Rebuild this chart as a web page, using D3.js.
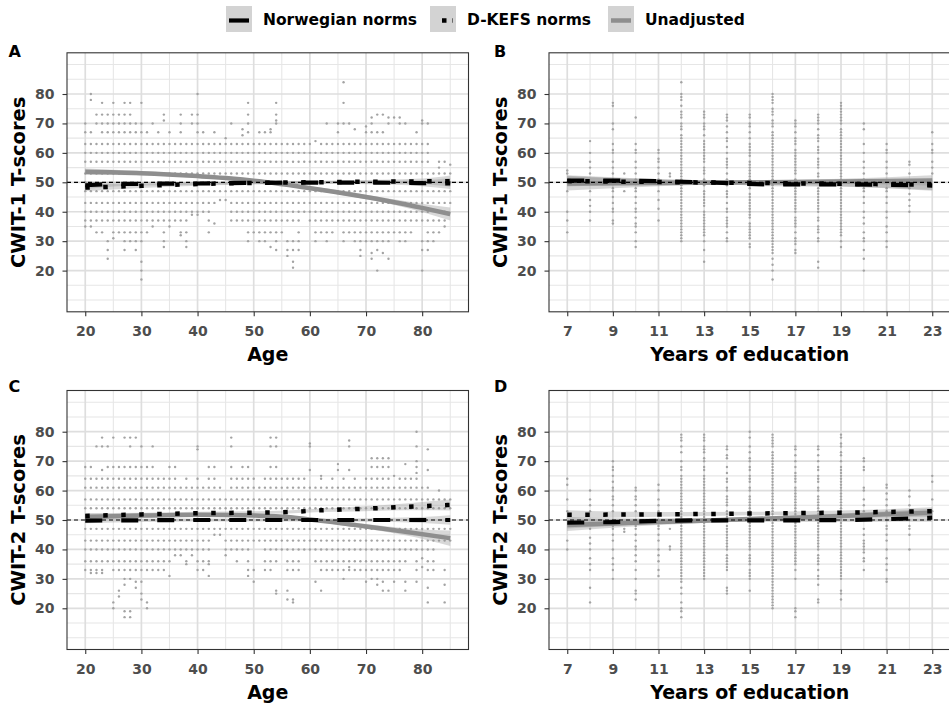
<!DOCTYPE html>
<html lang="en">
<head>
<meta charset="utf-8">
<title>CWIT T-scores</title>
<style>
body { margin: 0; background: #fff; }
svg { display: block; }
text { font-family: "DejaVu Sans", sans-serif; font-weight: bold; }
</style>
</head>
<body>
<script src="https://cdn.jsdelivr.net/npm/d3@7"></script>
<script>

// legend entries
var seriesNames = ["Norwegian norms", "D-KEFS norms", "Unadjusted"];

// tick labels
var yTicks = [20, 30, 40, 50, 60, 70, 80];
var ageTicks = [20, 30, 40, 50, 60, 70, 80];
var eduTicks = [7, 9, 11, 13, 15, 17, 19, 21, 23];

// scatter: [x, [T-scores at that x]]
var scatterA = [
 [20,[70,67,63,60,57,53,50,47,43,40,37,35]],
 [21,[80,78,67,63,60,57,53,47,43,40,37,35]],
 [22,[73,70,63,60,57,53,47,43,40,37,33]],
 [23,[77,73,70,67,63,60,57,53,47,43,40,37,33]],
 [24,[73,70,67,63,60,57,53,47,43,40,37,30,27,24]],
 [25,[77,73,70,67,63,60,57,53,47,43,40,37,33,31]],
 [26,[73,70,67,63,60,57,53,47,43,40,37,33]],
 [27,[77,73,70,67,63,60,57,53,47,43,40,37,33,30,27]],
 [28,[77,73,70,67,63,60,57,53,47,43,40,37,33,30]],
 [29,[70,67,63,60,57,53,47,43,40,37,33,30,27]],
 [30,[77,70,67,63,60,57,53,47,43,40,37,33,30,23,20,17]],
 [31,[67,63,60,57,53,47,43,40,37,33]],
 [32,[70,63,60,57,53,47,43,40,37,35]],
 [33,[67,63,60,57,53,47,43,40,37]],
 [34,[73,71,63,60,57,53,47,43,40,37,33,30,28]],
 [35,[67,63,60,57,53,47,43,40,37,35]],
 [36,[63,60,57,53,47,43,40,37]],
 [37,[73,70,67,63,60,57,53,47,43,40,37,33,32]],
 [38,[63,60,57,53,47,43,40,37,33,30,28]],
 [39,[73,70,63,60,57,53,47,43,40,39]],
 [40,[80,73,70,67,63,60,57,53,47,43,40,39]],
 [41,[67,63,60,57,53,47,43,40]],
 [42,[63,60,57,53,47,43,40,37,33]],
 [43,[67,63,60,57,53,47,43,36]],
 [44,[63,60,57,53,47,44]],
 [45,[65,63,60,57,53,47,44]],
 [46,[70,63,60,57,53,47,43,40,37]],
 [47,[63,60,57,53,47,43,40,37]],
 [48,[68,66,63,60,57,53,47,43,40,37]],
 [49,[77,73,70,67,63,60,57,53,47,43,40,37,33,30]],
 [50,[63,60,57,53,47,43,40,37,33]],
 [51,[67,63,60,57,53,47,43,40,37,33,30]],
 [52,[67,63,60,57,53,47,43,40,37,33,30]],
 [53,[68,67,63,60,57,53,47,43,40,37,33,28]],
 [54,[77,73,71,70,63,60,57,53,47,43,40,37,33,30,27]],
 [55,[63,60,57,53,47,43,40,37,33]],
 [56,[63,60,57,53,47,43,40,37,30,27,25]],
 [57,[63,60,57,53,47,43,40,37,30,27,23,21]],
 [58,[63,60,57,53,47,43,40,37,33,30,27]],
 [59,[63,60,57,53,47,43,40]],
 [60,[63,60,57,53,47,43,40,37]],
 [61,[64,60,57,53,47,43,40,37,33,30]],
 [62,[63,60,57,53,47,43,40,37,33]],
 [63,[70,63,60,57,53,47,43,40,37,33,30]],
 [64,[63,60,57,53,47,43,40,37,33]],
 [65,[70,67,63,60,57,53,47,43,40,37]],
 [66,[84,77,70,63,60,57,53,47,43,40,37,33,30]],
 [67,[70,63,60,57,53,47,43,40,37,33]],
 [68,[68,63,60,57,53,47,43,40,37,33,30]],
 [69,[63,60,57,53,47,43,40,37,33,30,27,25]],
 [70,[69,67,63,60,57,53,47,43,40,37,33,30]],
 [71,[72,70,67,63,60,57,53,47,43,40,37,33,30,26,24]],
 [72,[73,67,63,60,57,53,47,43,40,37,33,30,27,20]],
 [73,[73,67,63,60,57,53,47,43,40,37,33,30,26]],
 [74,[72,70,63,60,57,53,47,43,40,37,33,30,24]],
 [75,[72,63,60,57,53,47,43,40,37,33]],
 [76,[72,70,63,60,57,53,47,43,40,37,33,30]],
 [77,[70,63,60,57,53,47,43,40,37,33,30]],
 [78,[63,60,57,53,47,43,40,37,33]],
 [79,[67,63,60,57,53,47,43,40,37]],
 [80,[71,70,63,60,57,53,47,43,40,37,30,27,20]],
 [81,[70,63,60,57,53,47,43,40,37,33,30,27]],
 [82,[53,47,43,37,33,30]],
 [83,[57,55,53,47,43,40,37,33]],
 [84,[57,53,47,43,40,37,35]],
 [85,[56,53,50,47,43]]
];

var scatterB = [
 [7,[54,53,50,47,40,37,33]],
 [8,[64,60,57,55,53,50,47,44,42,40,37]],
 [9,[77,76,70,68,63,61,60,57,55,53,51,50,48,47,45,43,41,40,37,36]],
 [9.5,[53,47]],
 [10,[72,63,61,60,57,55,53,51,50,48,47,45,43,41,40,38,36,35,33,30,28]],
 [11,[61,60,58,57,55,53,51,50,47,44,41,37]],
 [11.5,[53,52]],
 [12,[84,80,79,78,76,74,73,72,70,69,68,66,65,64,63,62,61,60,59,58,57,56,55,54,53,52,51,50,49,48,47,46,45,44,43,42,41,40,39,38,37,36,35,34,33,32,31,30]],
 [13,[74,73,72,70,69,68,66,64,63,62,61,60,59,58,57,55,54,53,51,50,49,47,46,45,44,43,42,40,39,38,37,36,35,34,33,32,30,27,23]],
 [14,[73,72,71,69,67,65,64,62,60,58,57,56,55,53,51,50,49,47,46,45,43,41,40,38,37,36,35,33,31,30]],
 [15,[73,72,70,69,67,65,63,62,61,60,59,57,56,55,54,53,52,51,50,49,48,46,45,44,43,42,41,40,39,38,36,35,34,33,32,31,29,28]],
 [16,[80,79,78,77,75,74,73,71,70,69,67,66,65,64,63,62,61,60,59,58,57,56,55,54,53,52,51,50,49,48,47,46,45,44,43,42,41,40,39,38,37,36,35,34,33,32,31,30,29,28,27,26,24,22,20,17]],
 [17,[71,70,69,67,65,64,63,61,60,59,58,57,56,55,54,53,51,50,49,48,47,46,45,44,43,42,41,40,38,37,36,35,33,31,30,29,27,26]],
 [18,[73,72,71,70,68,66,65,64,62,61,60,58,57,56,55,53,52,50,48,47,46,45,44,43,42,41,40,38,37,35,34,33,31,30,23,21]],
 [19,[77,76,75,74,73,72,71,70,68,67,66,65,64,63,62,61,60,59,58,57,56,55,54,53,52,51,50,49,48,47,46,45,44,43,42,41,40,39,38,37,36,35,34,33,32,30,28]],
 [20,[70,68,63,60,57,55,53,51,49,48,47,45,43,40,38,36,33,31,30,27,24,20]],
 [21,[63,61,60,57,55,53,50,48,47,45,43,40,38,35,33,30,28]],
 [22,[57,56,53,50,48,46,44,42,40]],
 [23,[67,63,61,60,57,55,53]]
];

var scatterC = [
 [20,[68,64,61,57,54,47,43,40,36,33]],
 [21,[68,64,61,57,54,47,43,40,36,33,32]],
 [22,[75,64,61,57,54,47,43,40,36,33,32]],
 [23,[78,75,67,64,61,57,54,47,43,40,36,33,32]],
 [24,[75,68,64,61,57,54,47,43,40,36]],
 [25,[78,68,64,61,57,54,47,43,40,36,33,22,20]],
 [26,[68,64,61,57,54,47,43,40,36,33,26,24]],
 [27,[78,68,64,61,57,54,47,43,40,36,33,30,28,19,17]],
 [28,[78,75,68,64,61,57,54,47,43,40,36,33,30,19,17]],
 [29,[78,68,64,61,57,54,47,43,40,36,33,29,27]],
 [30,[75,68,64,61,57,54,47,43,40,36,33,29,25,23]],
 [31,[68,64,61,57,54,47,43,40,36,33,22,20]],
 [32,[75,68,64,61,57,54,47,43,40,36,33]],
 [33,[64,61,57,54,47,43,40,36,33]],
 [34,[64,61,57,54,47,43,40,36,33]],
 [35,[68,64,61,57,54,47,43,40,36,31]],
 [36,[68,64,61,57,54,47,43,40,38]],
 [37,[61,57,54,47,43,40,38]],
 [38,[64,61,57,54,47,43,40,36,35]],
 [39,[61,57,54,47,43,40,38]],
 [40,[75,74,64,61,57,54,47,43,40,36,33]],
 [41,[61,57,54,47,43,40,36,33]],
 [42,[68,64,61,57,54,47,43,40,36,35,31]],
 [43,[68,64,61,57,54,47,45]],
 [44,[61,57,54,47,45]],
 [45,[57,54,47,43,40,38]],
 [46,[78,75,68,64,61,57,54,47,43,40]],
 [47,[64,61,57,54,47,43,40,36]],
 [48,[68,64,61,57,54,47,43,40]],
 [49,[68,64,61,57,54,47,43,40,36,33,31]],
 [50,[64,61,57,54,47,43,33,29]],
 [51,[61,57,54,47,43]],
 [52,[64,61,57,54,47,43,40,36,33]],
 [53,[78,75,68,64,61,57,54,47,43,40,36,33]],
 [54,[78,75,68,64,61,57,54,47,43,40,36,26,25]],
 [55,[64,61,57,54,47,43,40]],
 [56,[64,61,57,54,47,43,40,36,33,26,23]],
 [57,[64,61,57,54,47,43,40,36,33,23,22]],
 [58,[64,61,57,54,47,43,40,36,33]],
 [59,[64,61,57,54,47,43,40]],
 [60,[76,75,67,61,57,54,47,43,40]],
 [61,[61,57,54,47,43,40,36,29]],
 [62,[65,64,61,57,54,47,43,40,36,33,26]],
 [63,[61,57,54,47,43,40,36,33]],
 [64,[64,61,57,54,47,43,40,36,33]],
 [65,[69,67,61,57,54,47,43,40,36,33]],
 [66,[64,61,57,54,47,43,40,36,33,30]],
 [67,[77,75,67,61,57,54,47,43,40,36,34,33]],
 [68,[64,61,57,54,47,43,40,36,33]],
 [69,[61,57,54,47,43,40,36,33]],
 [70,[64,61,57,54,47,43,40,36,33,29]],
 [71,[71,68,64,61,57,54,47,43,40,36,33,30]],
 [72,[71,68,64,61,57,54,47,43,40,36,33,30,28]],
 [73,[71,68,64,61,57,54,47,43,40,36,33,29,26]],
 [74,[71,68,64,61,57,54,47,43,40,36,33,26]],
 [75,[65,61,57,54,47,43,40,36,33,29]],
 [76,[64,61,57,54,47,43,40,36,33]],
 [77,[69,64,61,57,54,47,43,40,36,29,26]],
 [78,[64,61,57,54,47,43,40]],
 [79,[80,75,70,68,66,64,61,57,54,47,43,40,36,33,29]],
 [80,[61,57,54,47,43,40,37,34]],
 [81,[74,67,61,57,54,47,43,40,36,33,27,22]],
 [82,[57,54,47,43,40,36,33]],
 [83,[60,57,54,47,43]],
 [84,[57,54,47,43,33,28,22]],
 [85,[57,54,47,43]]
];

var scatterD = [
 [7,[64,62,57,53,43,40]],
 [8,[60,57,55,53,47,44,42,40,37,35,33,27,22]],
 [9,[70,68,67,65,63,61,60,58,57,55,53,50,48,47,45,43,40,37,35,33,30]],
 [9.5,[47,46]],
 [10,[61,60,58,57,55,53,50,48,47,45,43,41,40,38,36,33,30,26,25,23]],
 [11,[62,60,57,55,53,50,48,47,45,43,40,38,36,33,31]],
 [11.5,[47,41,40]],
 [12,[79,78,77,75,73,70,68,67,65,64,63,62,61,60,59,58,57,56,55,54,53,52,51,50,49,48,47,46,45,44,43,42,41,40,39,38,37,36,35,34,33,32,31,30,29,27,25,22,20,19,17]],
 [13,[79,78,77,75,74,73,71,70,68,67,65,64,63,62,61,60,59,58,57,56,55,54,53,52,51,50,49,48,47,46,45,44,43,42,41,40,39,38,37,36,35,34,33,32,31,30]],
 [14,[75,74,72,71,68,66,64,63,61,60,58,57,56,55,53,52,51,50,48,47,46,45,44,43,42,41,40,38,37,36,35,34,33,27,26,25]],
 [15,[80,78,75,73,71,70,68,67,65,64,63,61,60,58,57,56,55,54,53,52,51,50,49,48,47,46,45,44,43,42,41,40,38,37,36,35,33,32,31,30,26]],
 [16,[79,78,77,76,75,73,72,71,70,69,68,67,66,65,64,63,62,61,60,59,58,57,56,55,54,53,52,51,50,49,48,47,46,45,44,43,42,41,40,39,38,37,36,35,34,33,32,31,30,29,28,27,26,25,24,23,22,21,20]],
 [17,[75,74,72,70,68,66,65,64,63,61,60,59,58,57,56,55,54,53,52,51,50,49,48,47,46,45,44,43,42,41,40,39,38,37,36,35,33,30,20,19,17]],
 [18,[75,74,72,70,68,67,65,64,63,61,60,58,57,56,55,54,53,52,51,50,49,48,47,46,45,44,43,42,41,40,38,37,36,35,33,31,30,28,23,22]],
 [19,[79,78,76,75,73,72,70,68,67,66,65,64,63,62,61,60,59,58,57,56,55,54,53,52,51,50,49,48,47,46,45,44,43,42,41,40,39,38,37,36,35,34,33,32,31,30,26,25,23]],
 [20,[71,70,68,67,61,60,57,55,53,50,47,45,43,42,41,40,39,37,36,33]],
 [21,[62,61,59,57,55,53,50,48,47,45,43,40,37,35,33,30,29]],
 [22,[60,58,55,53,50,48,47,45,40]],
 [23,[65,63,57,53]]
];

// smooth fits: [x, fitted T-score, half width of band]
var normA  = [[20,49.0,1.3],[25,49.4,0.8],[30,49.5,0.6],[40,49.6,0.5],[50,49.8,0.5],[60,49.9,0.5],[70,49.9,0.6],[80,49.7,1.0],[85,49.6,1.9]];
var dkefsA = [[20,48.2,1.2],[30,48.8,0.7],[40,49.4,0.6],[50,49.8,0.5],[60,50.0,0.5],[70,50.2,0.6],[80,50.3,1.0],[85,50.4,1.9]];
var unadjA = [[20,53.6,1.1],[30,53.1,0.7],[40,52.1,0.6],[46,51.3,0.6],[52,50.1,0.6],[58,48.6,0.6],[64,46.9,0.7],[70,45.0,0.8],[76,42.9,1.0],[80,41.3,1.4],[85,39.2,2.2]];

var normB  = [[7,50.6,1.8],[10,50.5,0.9],[13,50.0,0.6],[16,49.3,0.6],[19,49.3,0.8],[23,48.9,1.8]];
var dkefsB = [[7,50.4,1.8],[11,50.1,0.9],[15,49.8,0.6],[19,49.5,0.8],[23,49.2,1.8]];
var unadjB = [[7,49.6,2.4],[11,49.8,1.1],[15,50.0,0.6],[19,50.3,0.9],[23,50.6,1.8]];

var normC  = [[20,49.8,0.9],[30,49.9,0.6],[40,50.0,0.5],[50,50.0,0.5],[60,50.0,0.5],[70,50.0,0.6],[80,50.0,1.0],[85,50.0,1.6]];
var dkefsC = [[20,51.4,1.0],[30,51.9,0.6],[40,52.3,0.5],[50,52.5,0.5],[56,52.7,0.5],[62,53.3,0.6],[68,53.7,0.8],[74,54.2,1.0],[80,54.7,1.4],[85,55.1,1.9]];
var unadjC = [[20,51.0,1.0],[30,51.5,0.7],[40,51.8,0.6],[50,51.5,0.6],[56,51.0,0.6],[60,50.2,0.6],[65,49.1,0.7],[70,47.8,0.8],[77,46.0,1.2],[85,43.8,2.6]];

var normD  = [[7,49.1,2.0],[9,49.3,1.3],[11,49.7,0.9],[13,49.9,0.7],[17,49.9,0.6],[19,50.0,0.7],[21,50.3,0.9],[23,50.8,1.4]];
var dkefsD = [[7,51.8,1.5],[11,51.9,0.8],[15,52.2,0.6],[19,52.5,0.7],[23,53.0,1.3]];
var unadjD = [[7,48.3,2.0],[11,49.3,1.0],[15,50.3,0.7],[19,51.4,0.8],[23,52.5,1.4]];

var w = 949;
var h = 706;

var svg = d3.select("body")
        .append("svg")
        .attr("width", w)
        .attr("height", h);

var panels = [
    {id: "A", left: 67, top: 52.8, xdom: [16.75, 88.25], ticks: ageTicks, minor: [15,25,35,45,55,65,75,85],
     xtitle: "Age", ytitle: "CWIT-1 T-scores", pts: scatterA, fits: [normA, dkefsA, unadjA]},
    {id: "B", left: 549, top: 52.8, xdom: [6.2, 23.8], ticks: eduTicks, minor: [8,10,12,14,16,18,20,22],
     xtitle: "Years of education", ytitle: "CWIT-1 T-scores", pts: scatterB, fits: [normB, dkefsB, unadjB]},
    {id: "C", left: 67, top: 390.5, xdom: [16.75, 88.25], ticks: ageTicks, minor: [15,25,35,45,55,65,75,85],
     xtitle: "Age", ytitle: "CWIT-2 T-scores", pts: scatterC, fits: [normC, dkefsC, unadjC]},
    {id: "D", left: 549, top: 390.5, xdom: [6.2, 23.8], ticks: eduTicks, minor: [8,10,12,14,16,18,20,22],
     xtitle: "Years of education", ytitle: "CWIT-2 T-scores", pts: scatterD, fits: [normD, dkefsD, unadjD]}
];

var pw = 401.5, ph = 259;
var yMinor = [10,15,25,35,45,55,65,75,85,90];

panels.forEach(function(p) {

    var x = d3.scaleLinear().domain(p.xdom).range([0, pw]);
    var y = d3.scaleLinear().domain([6, 94]).range([ph, 0]);

    var g = svg.append("g").attr("transform", "translate(" + p.left + "," + p.top + ")");

    g.append("clipPath").attr("id", "clip" + p.id)
        .append("rect").attr("width", pw).attr("height", ph);

    var inner = g.append("g").attr("clip-path", "url(#clip" + p.id + ")");

    inner.append("rect").attr("width", pw).attr("height", ph).attr("fill", "#fff");

    // grid
    inner.selectAll(".ymin").data(yMinor).enter().append("line")
        .attr("x1", 0).attr("x2", pw)
        .attr("y1", function(d) { return y(d); }).attr("y2", function(d) { return y(d); })
        .attr("stroke", "#e6e6e6").attr("stroke-width", 1.1);
    inner.selectAll(".xmin").data(p.minor).enter().append("line")
        .attr("y1", 0).attr("y2", ph)
        .attr("x1", function(d) { return x(d); }).attr("x2", function(d) { return x(d); })
        .attr("stroke", "#e6e6e6").attr("stroke-width", 1.1);
    inner.selectAll(".ymaj").data(yTicks).enter().append("line")
        .attr("x1", 0).attr("x2", pw)
        .attr("y1", function(d) { return y(d); }).attr("y2", function(d) { return y(d); })
        .attr("stroke", "#dedede").attr("stroke-width", 1.7);
    inner.selectAll(".xmaj").data(p.ticks).enter().append("line")
        .attr("y1", 0).attr("y2", ph)
        .attr("x1", function(d) { return x(d); }).attr("x2", function(d) { return x(d); })
        .attr("stroke", "#dedede").attr("stroke-width", 1.7);

    // points
    var flat = [];
    p.pts.forEach(function(col) {
        col[1].forEach(function(v) { flat.push([col[0], v]); });
    });
    inner.selectAll("circle").data(flat).enter().append("circle")
        .attr("cx", function(d) { return x(d[0]); })
        .attr("cy", function(d) { return y(d[1]); })
        .attr("r", 1.2)
        .attr("fill", "#a3a3a3");

    // ribbons
    var area = d3.area().curve(d3.curveMonotoneX)
        .x(function(d) { return x(d[0]); })
        .y0(function(d) { return y(d[1] - d[2]); })
        .y1(function(d) { return y(d[1] + d[2]); });
    var line = d3.line().curve(d3.curveMonotoneX)
        .x(function(d) { return x(d[0]); })
        .y(function(d) { return y(d[1]); });

    p.fits.forEach(function(f) {
        inner.append("path").attr("d", area(f))
            .attr("fill", "#8f8f8f").attr("fill-opacity", 0.35);
    });

    // unadjusted, D-KEFS, Norwegian
    inner.append("path").attr("d", line(p.fits[2]))
        .attr("fill", "none").attr("stroke", "#8e8e8e").attr("stroke-width", 4.5);
    inner.append("path").attr("d", line(p.fits[1]))
        .attr("fill", "none").attr("stroke", "#000").attr("stroke-width", 4.5)
        .attr("stroke-dasharray", "4.5,13.5");
    inner.append("path").attr("d", line(p.fits[0]))
        .attr("fill", "none").attr("stroke", "#000").attr("stroke-width", 4.2)
        .attr("stroke-dasharray", "17,19");

    // reference at T = 50
    inner.append("line")
        .attr("x1", 0).attr("x2", pw)
        .attr("y1", y(50)).attr("y2", y(50))
        .attr("stroke", "#000").attr("stroke-width", 1.2)
        .attr("stroke-dasharray", "4,3");

    g.append("rect").attr("width", pw).attr("height", ph)
        .attr("fill", "none").attr("stroke", "#333").attr("stroke-width", 1.1);

    // axes
    var ya = g.append("g").call(d3.axisLeft(y).tickValues(yTicks).tickSize(4.5).tickPadding(8));
    var xa = g.append("g").attr("transform", "translate(0," + ph + ")")
        .call(d3.axisBottom(x).tickValues(p.ticks).tickSize(4.5).tickPadding(10));
    [ya, xa].forEach(function(a) {
        a.select(".domain").remove();
        a.selectAll("line").attr("stroke", "#333").attr("stroke-width", 1.1);
        a.selectAll("text").attr("fill", "#4d4d4d")
            .style("font-family", "'DejaVu Sans', sans-serif")
            .style("font-weight", "bold").style("font-size", "14px");
    });

    // titles
    g.append("text")
        .attr("x", pw / 2).attr("y", ph + 49)
        .attr("text-anchor", "middle")
        .style("font-size", "19px")
        .text(p.xtitle);
    g.append("text")
        .attr("transform", "translate(" + (25 - p.left + (p.left > 100 ? 482 : 0)) + "," + (ph / 2) + ") rotate(-90)")
        .attr("text-anchor", "middle")
        .style("font-size", "19.5px")
        .text(p.ytitle);
    g.append("text")
        .attr("x", (p.left > 100 ? 494 : 8.5) - p.left).attr("y", p.top > 100 ? 1 : 4)
        .style("font-size", "16px")
        .text(p.id);
});

// legend
var legendKeys = [226, 430, 608];
var lg = svg.append("g");
legendKeys.forEach(function(kx, i) {
    lg.append("rect").attr("x", kx).attr("y", 6).attr("width", 26).attr("height", 26)
        .attr("fill", "#d3d3d3");
    var l = lg.append("line").attr("x1", kx + 3).attr("x2", kx + 23)
        .attr("y1", 20.5).attr("y2", 20.5);
    if (i == 0) l.attr("stroke", "#000").attr("stroke-width", 4.2);
    if (i == 1) l.attr("x1", kx + 12).attr("stroke", "#000").attr("stroke-width", 4.5).attr("stroke-dasharray", "4.5,6");
    if (i == 2) l.attr("stroke", "#8e8e8e").attr("stroke-width", 4.5);
    lg.append("text").attr("x", kx + 37).attr("y", 24.5)
        .style("font-size", "15.5px")
        .text(seriesNames[i]);
});

</script>
</body>
</html>
